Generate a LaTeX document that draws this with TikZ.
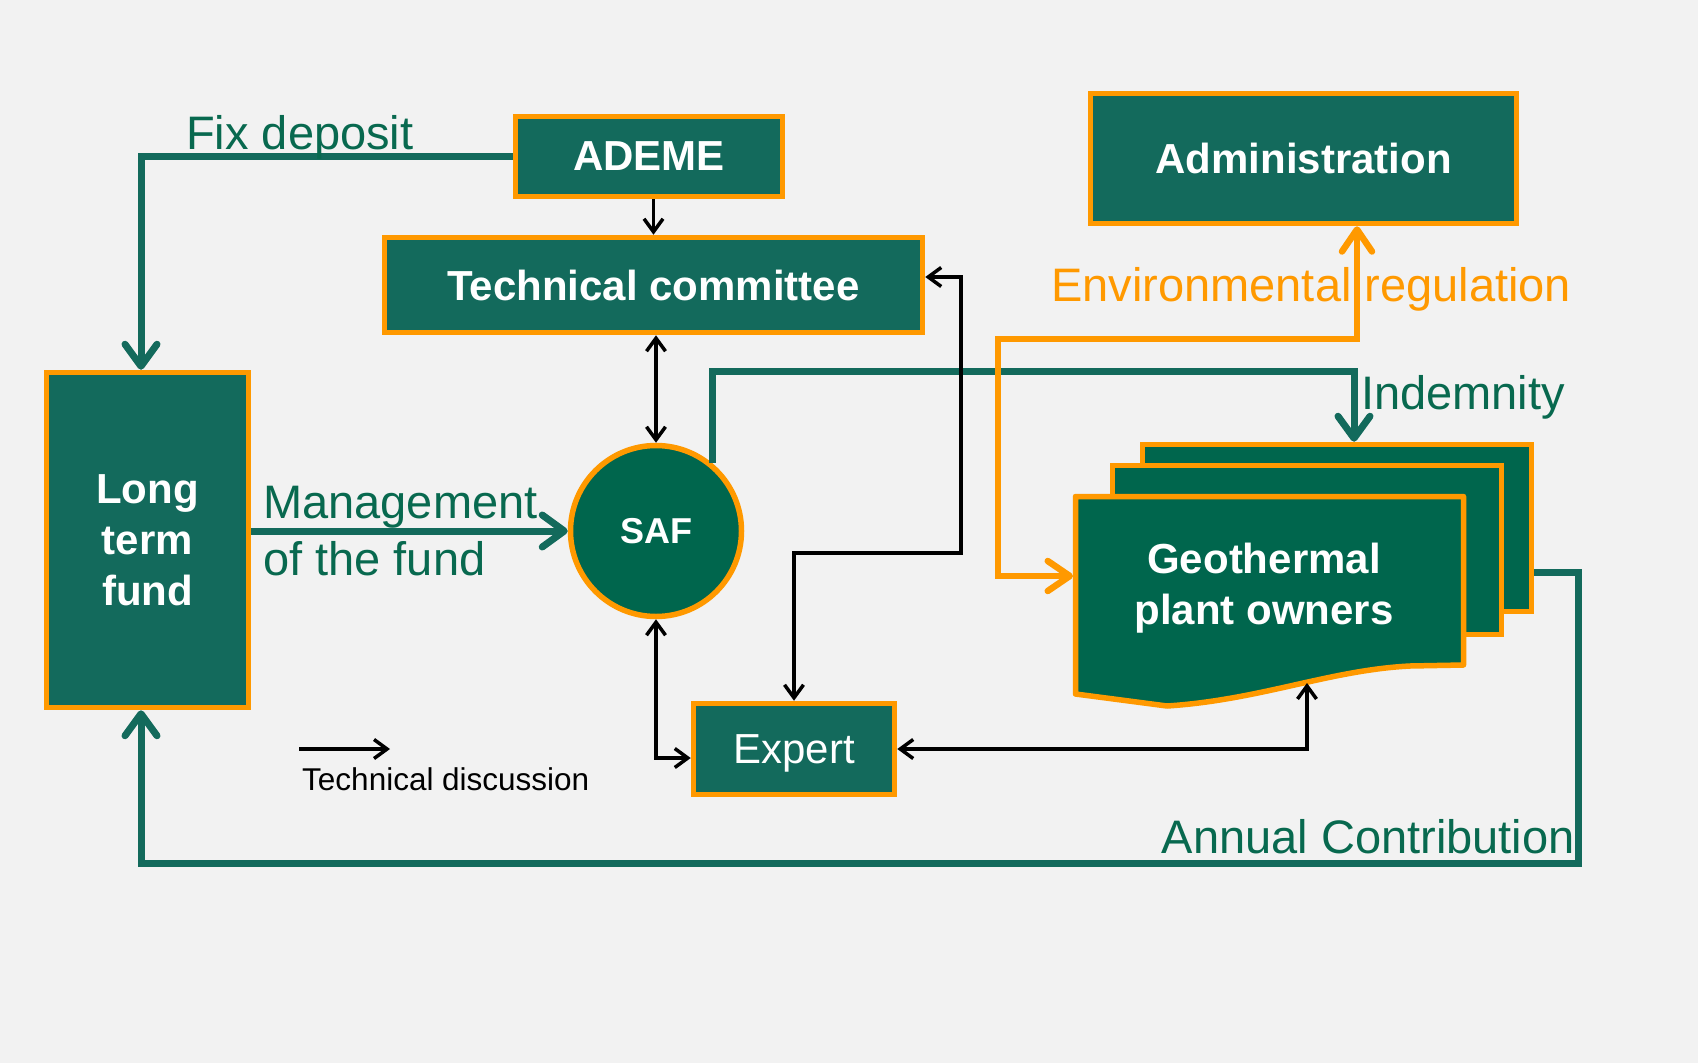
\documentclass[tikz,border=0pt]{standalone}
\usepackage{fontspec}
\setmainfont{Liberation Sans}
\usetikzlibrary{arrows.meta}
\definecolor{pagebg}{HTML}{F2F2F2}
\definecolor{boxgreen}{HTML}{136A5C}
\definecolor{deepgreen}{HTML}{00664D}
\definecolor{rim}{HTML}{FF9900}
\definecolor{flowgreen}{HTML}{136A5C}
\definecolor{labelgreen}{HTML}{08694F}
\begin{document}
\begin{tikzpicture}[x=1pt, y=-1pt,
  box/.style={draw=rim, line width=5.5pt, fill=boxgreen, text=white, inner sep=0pt,
    font=\fontsize{42}{51}\selectfont\bfseries},
  plate/.style={draw=rim, line width=5.5pt, fill=deepgreen, inner sep=0pt},
  gflow/.style={draw=flowgreen, line width=7pt, -{Straight Barb[length=22pt,width=32pt,round]}},
  oflow/.style={draw=rim, line width=6.5pt,
    {Straight Barb[length=22pt,width=30pt,round]}-{Straight Barb[length=22pt,width=30pt,round]}},
  talk/.style={draw=black, line width=3.5pt,
    {Straight Barb[length=13pt,width=19pt]}-{Straight Barb[length=13pt,width=19pt]}},
  talkone/.style={draw=black, line width=3.5pt, -{Straight Barb[length=13pt,width=19pt]}},
  lbl/.style={text=labelgreen, inner sep=0pt, font=\fontsize{47}{57}\selectfont},
]
% page
\fill[pagebg] (0,0) rectangle (1698,1063);

% boxes
\node[box, minimum width=267pt, minimum height=80pt] (ademe) at (649,156.5) {ADEME};
\node[box, minimum width=538pt, minimum height=95pt] (tc) at (653.5,285) {Technical committee};
\node[box, minimum width=426pt, minimum height=130pt] (admin) at (1303.5,158.5) {Administration};
\node[box, align=center, minimum width=202pt, minimum height=335pt] (ltf) at (147.5,540) {Long\\term\\fund};
\node[box, font=\fontsize{42}{51}\selectfont, text depth=0pt,
      minimum width=201pt, minimum height=91pt] (expert) at (794,749) {Expert};
\node[circle, draw=rim, line width=5.5pt, fill=deepgreen, text=white, inner sep=0pt,
      font=\fontsize{36}{43}\selectfont\bfseries, minimum size=171pt] (saf) at (656,531) {SAF};

% stacked plant owners
\node[plate, minimum width=389pt, minimum height=167pt] (gback) at (1337,528) {};
\node[plate, minimum width=389pt, minimum height=169pt] (gmid) at (1307,550) {};
\draw[draw=rim, line width=5.5pt, fill=deepgreen, line join=round]
  (1075.5,496.5) -- (1463.5,496.5) -- (1463.5,665) -- (1410,666)
  .. controls (1330,670) and (1260,700) .. (1167,706) -- (1075.5,694) -- cycle;
\node[text=white, inner sep=0pt, align=center, font=\fontsize{42}{51}\selectfont\bfseries]
  (geo) at (1264,588) {Geothermal\\plant owners};
\coordinate (geo-wave) at (1307,683);
\coordinate (geo-left) at (1073,576);

% money flows
\draw[gflow] (ademe.west) -| (ltf.north -| 141,0);
\draw[gflow] (ltf.east |- saf.west) -- (saf.west);
\draw[gflow] (saf.50) |- (1354,371) -- (gback.north -| 1354,0);
\draw[gflow] (gback.east |- 0,572) -- (1578,572) -- (1578,863) -| (ltf.south -| 141,0);

% technical discussions
\draw[talkone] (ademe.south -| tc.north) -- (tc.north);
\draw[talk] (tc.south -| saf.north) -- (saf.north);
\draw[talk] (saf.south) |- (expert.west |- 0,758);
\draw[talk] (tc.east |- 0,277) -- (961,277) -- (961,553) -| (expert.north);
\draw[talk] (expert.east) -| (geo-wave);

% regulation
\draw[oflow] (geo-left) -- (998,576) -- (998,339) -- (1357,339) -- (admin.south -| 1357,0);

% labels
\node[lbl, anchor=base west] (fixlbl) at (186,149) {Fix deposit};
\node[lbl, anchor=base west] (mgmt1) at (263,518) {Management};
\node[lbl, anchor=base west] (mgmt2) at (263,575) {of the fund};
\node[lbl, anchor=base west] (indlbl) at (1361,409) {Indemnity};
\node[lbl, anchor=base east] (annlbl) at (1575,853) {Annual Contribution};
\node[lbl, text=rim, anchor=base west] (envlbl) at (1051,301) {Environmental regulation};

% legend
\coordinate (leg-a) at (299,749);
\coordinate (leg-b) at (390,749);
\draw[talkone] (leg-a) -- (leg-b);
\node[anchor=base west, inner sep=0pt, font=\fontsize{31.5}{38}\selectfont] (legtxt) at (302,790) {Technical discussion};
\end{tikzpicture}
\end{document}
